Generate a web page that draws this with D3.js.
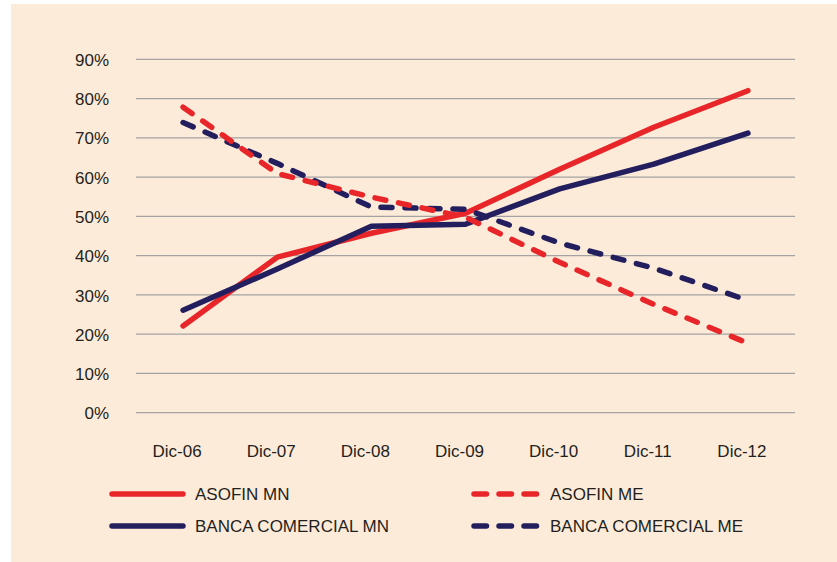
<!DOCTYPE html>
<html>
<head>
<meta charset="utf-8">
<script src="https://cdn.jsdelivr.net/npm/d3@7"></script>
<style>
  html, body { margin: 0; padding: 0; background: #ffffff; }
  svg { display: block; }
  text { font-family: "Liberation Sans", Arial, sans-serif; fill: #231f20; }
</style>
</head>
<body>
<svg id="chart" width="837" height="562"></svg>
<script>
// Periods on the horizontal axis
const periods = ["Dic-06", "Dic-07", "Dic-08", "Dic-09", "Dic-10", "Dic-11", "Dic-12"];

// Shares in percent for each series
const asofinMN = [22.1, 39.6, 45.7, 50.8, 62.0, 72.7, 82.0];
const bancaMN  = [26.1, 36.6, 47.5, 48.0, 57.0, 63.3, 71.2];
const asofinME = [77.8, 60.9, 54.9, 49.8, 38.3, 27.6, 17.7];
const bancaME  = [73.9, 63.5, 52.4, 51.8, 43.2, 36.8, 28.6];

// Y axis ticks
const yTicks = [0, 10, 20, 30, 40, 50, 60, 70, 80, 90];

const seriesNames = ["ASOFIN MN", "ASOFIN ME", "BANCA COMERCIAL MN", "BANCA COMERCIAL ME"];

const RED = "#e8262a";
const NAVY = "#231f5e";

// Drawing order: solid lines first, dashed lines on top
const series = [
  { name: seriesNames[0], values: asofinMN, color: RED,  dashed: false },
  { name: seriesNames[2], values: bancaMN,  color: NAVY, dashed: false },
  { name: seriesNames[3], values: bancaME,  color: NAVY, dashed: true },
  { name: seriesNames[1], values: asofinME, color: RED,  dashed: true }
];

const svg = d3.select("#chart");

// Panel background
svg.append("rect")
  .attr("x", 11).attr("y", 4)
  .attr("width", 826).attr("height", 558)
  .attr("fill", "#fdebd9");

const plot = { left: 136, right: 795, top: 59.3, bottom: 412.7 };

const x = d3.scaleBand()
  .domain(periods)
  .range([plot.left, plot.right]);

const y = d3.scaleLinear()
  .domain([0, 90])
  .range([plot.bottom, plot.top]);

// Horizontal gridlines
svg.append("g")
  .selectAll("line")
  .data(yTicks)
  .join("line")
  .attr("x1", plot.left)
  .attr("x2", plot.right)
  .attr("y1", d => y(d))
  .attr("y2", d => y(d))
  .attr("stroke", "#a3a3a3")
  .attr("stroke-width", 1.3);

// Y axis labels
const yAxis = d3.axisLeft(y)
  .tickValues(yTicks)
  .tickFormat(d => d + "%")
  .tickSize(0)
  .tickPadding(27);

const gy = svg.append("g")
  .attr("transform", `translate(${plot.left},0)`)
  .call(yAxis);
gy.select(".domain").remove();
gy.selectAll("text")
  .style("font-size", "17px")
  .style("font-family", "'Liberation Sans', Arial, sans-serif")
  .attr("fill", "#231f20")
  .attr("dy", "0.36em");

// X axis labels
const xAxis = d3.axisBottom(x)
  .tickSize(0)
  .tickPadding(0);

const gx = svg.append("g")
  .attr("transform", `translate(-6,${plot.bottom})`)
  .call(xAxis);
gx.select(".domain").remove();
gx.selectAll("text")
  .style("font-size", "17px")
  .style("font-family", "'Liberation Sans', Arial, sans-serif")
  .attr("fill", "#231f20")
  .attr("y", 44)
  .attr("dy", 0);

// Series lines
const line = d3.line()
  .x((d, i) => x(periods[i]) + x.bandwidth() / 2)
  .y(d => y(d));

svg.append("g")
  .selectAll("path")
  .data(series)
  .join("path")
  .attr("d", d => line(d.values))
  .attr("fill", "none")
  .attr("stroke", d => d.color)
  .attr("stroke-width", 5.5)
  .attr("stroke-linecap", "round")
  .attr("stroke-linejoin", "round")
  .attr("stroke-dasharray", d => d.dashed ? "11,13" : null);

// Legend
const legendItems = [
  { name: seriesNames[0], color: RED,  dashed: false, lx: 110, ly: 494 },
  { name: seriesNames[1], color: RED,  dashed: true,  lx: 472, ly: 494 },
  { name: seriesNames[2], color: NAVY, dashed: false, lx: 110, ly: 526 },
  { name: seriesNames[3], color: NAVY, dashed: true,  lx: 472, ly: 526 }
];

const legend = svg.append("g");
const item = legend.selectAll("g")
  .data(legendItems)
  .join("g")
  .attr("transform", d => `translate(${d.lx},${d.ly})`);

item.append("line")
  .attr("x1", 2).attr("x2", d => d.dashed ? 66 : 73)
  .attr("y1", 0).attr("y2", 0)
  .attr("stroke", d => d.color)
  .attr("stroke-width", 5.5)
  .attr("stroke-linecap", "round")
  .attr("stroke-dasharray", d => d.dashed ? "12.5,12.5" : null);

item.append("text")
  .attr("x", d => d.dashed ? 78 : 85)
  .attr("y", 0)
  .attr("dy", "0.36em")
  .style("font-size", "17px")
  .text(d => d.name);
</script>
</body>
</html>
